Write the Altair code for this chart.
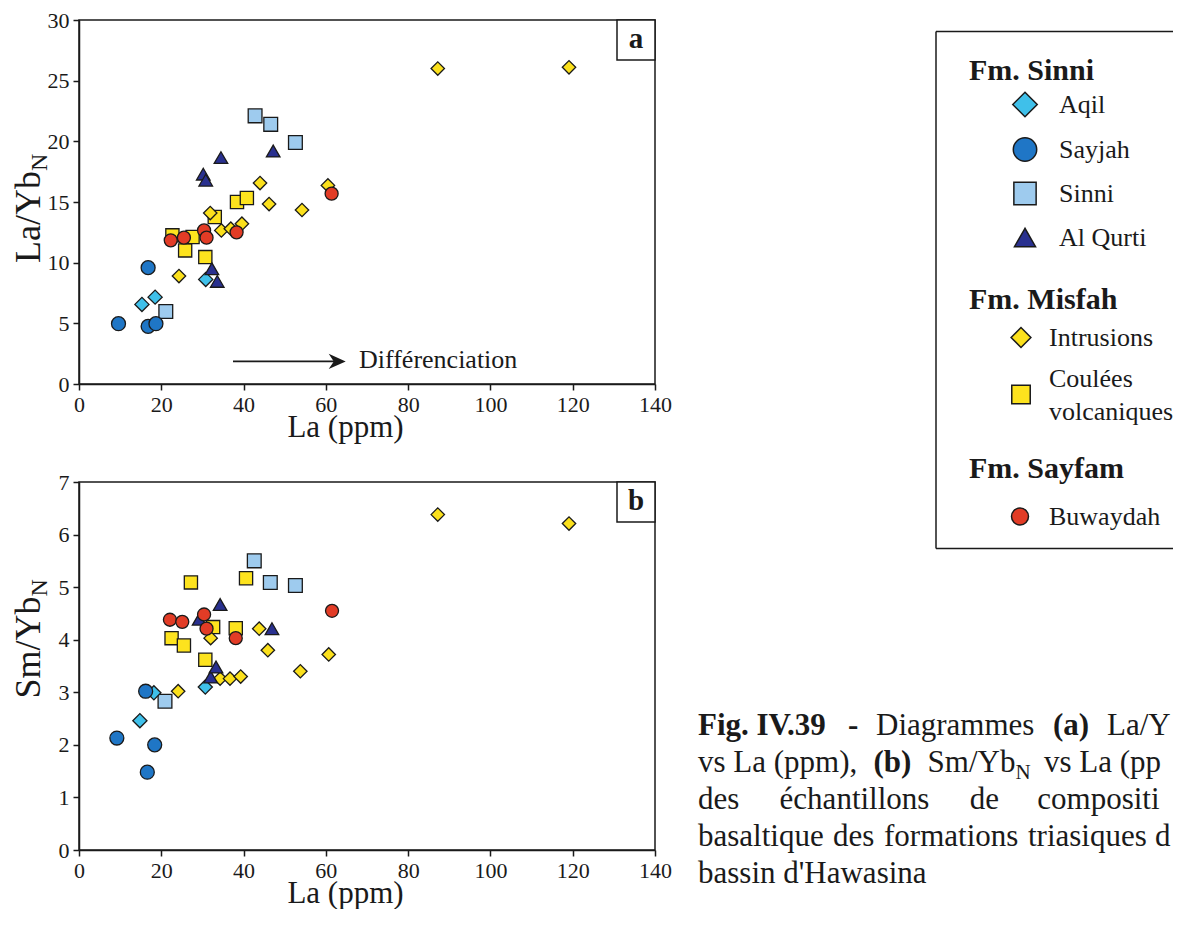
import altair as alt
import pandas as pd

FONT = "Liberation Serif"
INK = "#1a1a1a"

# ---------------- series definitions ----------------
SERIES = ["Aqil", "Sayjah", "Sinni", "Al Qurti", "Intrusions", "Coulées volcaniques", "Buwaydah"]
DRAW_ORDER = ["Coulées volcaniques", "Intrusions", "Sinni", "Aqil", "Al Qurti", "Sayjah", "Buwaydah"]
COLORS = ["#3fc0ea", "#1f76c6", "#9ecbee", "#29308f", "#fbe01c", "#fde31e", "#e23c26"]
SHAPES = ["diamond", "circle", "square", "triangle-up", "diamond", "square", "circle"]
SIZES_PANEL = [200, 169, 182, 289, 225, 182, 169]
SIZES_LEGEND = [600, 289, 306, 600, 560, 346, 324]

# ---------------- data (La ppm, La/Yb_N) and (La ppm, Sm/Yb_N) ----------------
AQIL_LA_A = [15.3, 18.5, 30.8]
AQIL_LAYB = [6.56, 7.16, 8.62]
AQIL_LA_B = [14.8, 18.2, 30.7]
AQIL_SMYB = [2.46, 2.99, 3.10]

SAYJAH_LA_A = [9.6, 16.8, 16.8, 18.7]
SAYJAH_LAYB = [4.97, 9.59, 4.75, 4.97]
SAYJAH_LA_B = [9.2, 16.2, 16.6, 18.4]
SAYJAH_SMYB = [2.13, 3.02, 1.48, 2.00]

SINNI_LA_A = [21.1, 42.8, 46.6, 52.6]
SINNI_LAYB = [5.98, 22.1, 21.4, 19.9]
SINNI_LA_B = [20.9, 42.6, 46.5, 52.6]
SINNI_SMYB = [2.83, 5.50, 5.09, 5.03]

ALQURTI_LA_A = [30.2, 30.8, 32.3, 33.6, 34.5, 47.2]
ALQURTI_LAYB = [17.3, 16.8, 9.5, 8.46, 18.66, 19.2]
ALQURTI_LA_B = [29.2, 32.0, 33.3, 34.3, 46.9]
ALQURTI_SMYB = [4.39, 3.29, 3.48, 4.67, 4.21]

INTR_LA_A = [24.3, 31.9, 34.6, 36.9, 39.6, 44.0, 46.2, 54.2, 60.5, 87.2, 119.1]
INTR_LAYB = [8.9, 14.09, 12.66, 12.80, 13.21, 16.56, 14.83, 14.34, 16.37, 26.0, 26.1]
INTR_LA_B = [24.1, 32.0, 34.3, 36.7, 39.3, 43.8, 45.9, 53.8, 60.7, 87.2, 119.1]
INTR_SMYB = [3.02, 4.03, 3.26, 3.26, 3.30, 4.21, 3.80, 3.40, 3.72, 6.38, 6.21]

COUL_LA_A = [22.7, 25.8, 27.6, 30.7, 33.0, 38.4, 40.8]
COUL_LAYB = [12.25, 11.01, 12.11, 10.46, 13.76, 15.0, 15.33]
COUL_LA_B = [22.5, 25.5, 27.2, 30.7, 32.6, 38.1, 40.6]
COUL_SMYB = [4.03, 3.89, 5.09, 3.62, 4.24, 4.22, 5.17]

BUW_LA_A = [22.3, 25.5, 30.4, 31.0, 38.3, 61.4]
BUW_LAYB = [11.84, 12.06, 12.66, 12.06, 12.5, 15.69]
BUW_LA_B = [22.1, 25.1, 30.4, 31.0, 38.1, 61.5]
BUW_SMYB = [4.38, 4.34, 4.48, 4.21, 4.03, 4.55]

X_TICKS = [0, 20, 40, 60, 80, 100, 120, 140]
YA_TICKS = [0, 5, 10, 15, 20, 25, 30]
YB_TICKS = [0, 1, 2, 3, 4, 5, 6, 7]

# ---------------- text content ----------------
LEGEND_HEADINGS = ["Fm. Sinni", "Fm. Misfah", "Fm. Sayfam"]
LEGEND_LABELS = ["Aqil", "Sayjah", "Sinni", "Al Qurti", "Intrusions", "Coulées\nvolcaniques", "Buwaydah"]

CAP_TEXT = ["Fig. IV.39", "-", "Diagrammes", "(a)", "La/Yb", "N",
            "vs La (ppm),", "(b)", "Sm/Yb", "N", "vs La (ppm)",
            "des", "échantillons", "de", "composition",
            "basaltique", "des", "formations", "triasiques", "du",
            "bassin d'Hawasina"]
CAP_BOLD = [True, True, False, True, False, False,
            False, True, False, False, False,
            False, False, False, False,
            False, False, False, False, False,
            False]
CAP_SUB = [False, False, False, False, False, True,
           False, False, False, True, False,
           False, False, False, False,
           False, False, False, False, False,
           False]
CAP_LINE = [0, 0, 0, 0, 0, 0,
            1, 1, 1, 1, 1,
            2, 2, 2, 2,
            3, 3, 3, 3, 3,
            4]

# ---------------- layout (pixels) ----------------
W = 576
H_A = 364
H_B = 368
RIGHT_OX = 674   # page x of right column origin
RIGHT_OY = 18.5  # page y of right column origin
RIGHT_W = 500
RIGHT_H = 880

CAP_X_PAGE = [699, 849, 877, 1054, 1108, 1190,
              699, 874.5, 928.6, 1016.5, 1045,
              699, 780.6, 970.7, 1038.3,
              699, 834, 885, 1029, 1156,
              699]
CAP_BASE_PAGE = [733, 770, 807, 844, 881]

LEG_SYM_X_PAGE = [1026, 1026, 1026, 1026, 1022, 1022, 1021]
LEG_SYM_Y_PAGE = [103, 148, 192, 236, 336, 393, 515]
LEG_TXT_X_PAGE = [1060, 1060, 1060, 1060, 1050, 1050, 1050]
LEG_TXT_Y_PAGE = [103, 148, 192, 236, 336, 377, 515]
LEG_HEAD_X_PAGE = 970
LEG_HEAD_Y_PAGE = [69, 298, 467]
LEG_BOX_PAGE = (937, 30, 547)


def series_frame(x_lists, y_lists):
    rows = []
    for name in DRAW_ORDER:
        i = SERIES.index(name)
        for x, y in zip(x_lists[i], y_lists[i]):
            rows.append({"series": name, "la": x, "val": y})
    return pd.DataFrame(rows)


df_a = series_frame(
    [AQIL_LA_A, SAYJAH_LA_A, SINNI_LA_A, ALQURTI_LA_A, INTR_LA_A, COUL_LA_A, BUW_LA_A],
    [AQIL_LAYB, SAYJAH_LAYB, SINNI_LAYB, ALQURTI_LAYB, INTR_LAYB, COUL_LAYB, BUW_LAYB],
)
df_b = series_frame(
    [AQIL_LA_B, SAYJAH_LA_B, SINNI_LA_B, ALQURTI_LA_B, INTR_LA_B, COUL_LA_B, BUW_LA_B],
    [AQIL_SMYB, SAYJAH_SMYB, SINNI_SMYB, ALQURTI_SMYB, INTR_SMYB, COUL_SMYB, BUW_SMYB],
)

shape_enc = alt.Shape("series:N", scale=alt.Scale(domain=SERIES, range=SHAPES), legend=None)
fill_enc = alt.Fill("series:N", scale=alt.Scale(domain=SERIES, range=COLORS), legend=None)


def panel(df, ymax, yticks, height, letter, ytitle, ytitle_start, ytitle_len):
    pts = alt.Chart(df).mark_point(filled=True, opacity=1, stroke=INK, strokeWidth=1.3).encode(
        x=alt.X("la:Q", scale=alt.Scale(domain=[0, 140], nice=False),
                axis=alt.Axis(values=X_TICKS, title="La (ppm)", titleX=W / 2 - 22)),
        y=alt.Y("val:Q", scale=alt.Scale(domain=[0, ymax], nice=False),
                axis=alt.Axis(values=yticks, title=None)),
        shape=shape_enc,
        fill=fill_enc,
        size=alt.Size("series:N", scale=alt.Scale(domain=SERIES, range=SIZES_PANEL), legend=None),
    )
    one = pd.DataFrame({"t": [letter]})
    box = alt.Chart(one).mark_rect(fill="white", stroke=INK, strokeWidth=1.5).encode(
        x=alt.value(W - 38), x2=alt.value(W), y=alt.value(0), y2=alt.value(40))
    lab = alt.Chart(one).mark_text(font=FONT, fontSize=29, fontWeight="bold", color=INK,
                                   align="center", baseline="middle").encode(
        x=alt.value(W - 19), y=alt.value(19), text="t:N")
    yt = alt.Chart(pd.DataFrame({"t": [ytitle]})).mark_text(
        font=FONT, fontSize=36, angle=270, align="left", baseline="alphabetic", color=INK).encode(
        x=alt.value(-39), y=alt.value(ytitle_start), text="t:N")
    ysub = alt.Chart(pd.DataFrame({"t": ["N"]})).mark_text(
        font=FONT, fontSize=24, angle=270, align="left", baseline="alphabetic", color=INK).encode(
        x=alt.value(-32), y=alt.value(ytitle_start - ytitle_len), text="t:N")
    return [pts, box, lab, yt, ysub]


layers_a = panel(df_a, 30, YA_TICKS, H_A, "a", "La/Yb", 243, 92)
ann = pd.DataFrame({"t": ["Différenciation"]})
arrow_line = alt.Chart(ann).mark_rule(color=INK, strokeWidth=1.8).encode(
    x=alt.value(154), x2=alt.value(260), y=alt.value(341.4))
arrow_head = alt.Chart(ann).mark_point(
    shape="M 0 0 L -1 -0.45 L -0.7 0 L -1 0.45 Z", filled=True, fill=INK, opacity=1,
    size=1156, strokeWidth=0).encode(x=alt.value(266.7), y=alt.value(341.4))
ann_text = alt.Chart(ann).mark_text(font=FONT, fontSize=26, color=INK, align="left",
                                    baseline="middle").encode(
    x=alt.value(280), y=alt.value(339.7), text="t:N")
panel_a = alt.layer(*layers_a, arrow_line, arrow_head, ann_text).properties(width=W, height=H_A)

layers_b = panel(df_b, 7, YB_TICKS, H_B, "b", "Sm/Yb", 216.5, 102)
panel_b = alt.layer(*layers_b).properties(width=W, height=H_B)

# ---------------- right column: legend box + caption ----------------
dummy = pd.DataFrame({"k": [0]})
bx, by0, by1 = LEG_BOX_PAGE[0] - RIGHT_OX, LEG_BOX_PAGE[1] - RIGHT_OY, LEG_BOX_PAGE[2] - RIGHT_OY
box_top = alt.Chart(dummy).mark_rule(color=INK, strokeWidth=1.5).encode(
    x=alt.value(bx), x2=alt.value(RIGHT_W), y=alt.value(by0))
box_bot = alt.Chart(dummy).mark_rule(color=INK, strokeWidth=1.5).encode(
    x=alt.value(bx), x2=alt.value(RIGHT_W), y=alt.value(by1))
box_left = alt.Chart(dummy).mark_rule(color=INK, strokeWidth=1.5).encode(
    x=alt.value(bx), y=alt.value(by0), y2=alt.value(by1))

leg = pd.DataFrame({
    "series": SERIES,
    "label": LEGEND_LABELS,
    "sx": [v - RIGHT_OX for v in LEG_SYM_X_PAGE],
    "sy": [v - RIGHT_OY for v in LEG_SYM_Y_PAGE],
    "tx": [v - RIGHT_OX for v in LEG_TXT_X_PAGE],
    "ty": [v - RIGHT_OY for v in LEG_TXT_Y_PAGE],
})
leg_sym = alt.Chart(leg).mark_point(filled=True, opacity=1, stroke=INK, strokeWidth=1.5).encode(
    x=alt.X("sx:Q", scale=None, axis=None),
    y=alt.Y("sy:Q", scale=None, axis=None),
    shape=shape_enc,
    fill=fill_enc,
    size=alt.Size("series:N", scale=alt.Scale(domain=SERIES, range=SIZES_LEGEND), legend=None),
)
leg_txt = alt.Chart(leg).mark_text(font=FONT, fontSize=26, color=INK, align="left",
                                   baseline="middle", lineBreak="\n", lineHeight=33).encode(
    x=alt.X("tx:Q", scale=None, axis=None),
    y=alt.Y("ty:Q", scale=None, axis=None),
    text="label:N",
)
heads = pd.DataFrame({
    "h": LEGEND_HEADINGS,
    "hx": [LEG_HEAD_X_PAGE - RIGHT_OX] * 3,
    "hy": [v - RIGHT_OY for v in LEG_HEAD_Y_PAGE],
})
leg_head = alt.Chart(heads).mark_text(font=FONT, fontSize=30, fontWeight="bold", color=INK,
                                      align="left", baseline="middle").encode(
    x=alt.X("hx:Q", scale=None, axis=None),
    y=alt.Y("hy:Q", scale=None, axis=None),
    text="h:N",
)

cap = pd.DataFrame({
    "t": CAP_TEXT,
    "bold": CAP_BOLD,
    "sub": CAP_SUB,
    "cx": [v - RIGHT_OX for v in CAP_X_PAGE],
    "cy": [CAP_BASE_PAGE[l] - RIGHT_OY + (7 if s else 0) for l, s in zip(CAP_LINE, CAP_SUB)],
})
# the caption runs past the right edge of the page, as in the figure: clip it there
cap = cap[cap["cx"] < RIGHT_W - 4]
limit_expr = {"expr": "max(1, %d - datum.cx)" % RIGHT_W}


def cap_layer(data, weight, size):
    return alt.Chart(data).mark_text(font=FONT, fontSize=size, fontWeight=weight, color=INK,
                                     align="left", baseline="alphabetic",
                                     limit=limit_expr, ellipsis="\u200b").encode(
        x=alt.X("cx:Q", scale=None, axis=None),
        y=alt.Y("cy:Q", scale=None, axis=None),
        text="t:N",
    )


cap_reg = cap_layer(cap[(~cap["bold"]) & (~cap["sub"])], "normal", 31)
cap_bold = cap_layer(cap[cap["bold"]], "bold", 31)
cap_sub = cap_layer(cap[cap["sub"]], "normal", 21)

right = alt.layer(box_top, box_bot, box_left, leg_sym, leg_txt, leg_head,
                  cap_reg, cap_bold, cap_sub).properties(
    width=RIGHT_W, height=RIGHT_H, view=alt.ViewBackground(strokeOpacity=0))

chart = alt.hconcat(
    alt.vconcat(panel_a, panel_b, spacing=27),
    right,
    spacing=0,
).resolve_scale(size="independent").properties(
    padding={"left": 2, "top": 0, "right": 0, "bottom": 0}
).configure_axis(
    labelFont=FONT, labelFontSize=22, labelColor=INK, labelFlush=False,
    titleFont=FONT, titleFontSize=31, titleFontWeight="normal", titleColor=INK,
    titlePadding=-3, labelPadding=4,
    tickColor=INK, tickSize=6, tickWidth=1.5, domainColor=INK, domainWidth=1.5, grid=False,
).configure_view(stroke=INK, strokeWidth=1.5)

chart.save("out.html", embed_options={"renderer": "svg", "actions": False})
